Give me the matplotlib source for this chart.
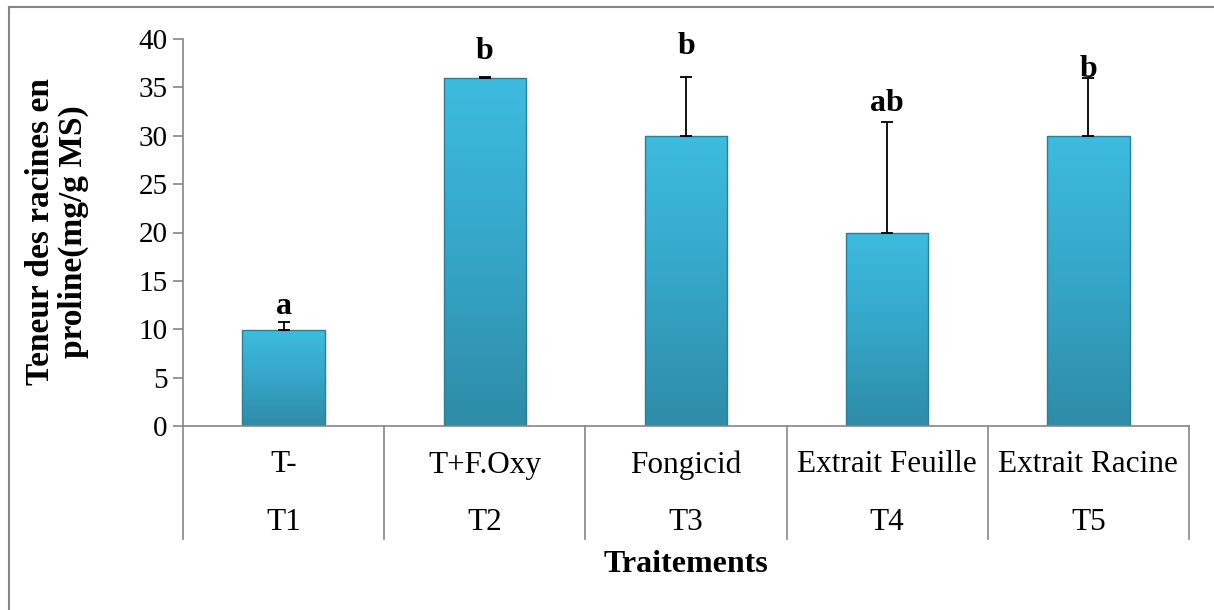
import numpy as np
import matplotlib
matplotlib.use("Agg")
import matplotlib.pyplot as plt
from matplotlib.colors import LinearSegmentedColormap
from matplotlib.lines import Line2D

# ---- data ----
treatments = ["T-", "T+F.Oxy", "Fongicid", "Extrait Feuille", "Extrait Racine"]
codes = ["T1", "T2", "T3", "T4", "T5"]
values = [9.9, 36.0, 30.0, 20.0, 30.0]
errors = [0.9, 0.05, 6.1, 11.4, 6.0]
letters = ["a", "b", "b", "ab", "b"]
letter_y = [12.3, 38.7, 39.2, 33.3, 36.8]
yticks = [0, 5, 10, 15, 20, 25, 30, 35, 40]

plt.rcParams['font.family'] = ['Liberation Serif', 'DejaVu Serif']

W, H = 1214, 610
fig = plt.figure(figsize=(W / 100, H / 100), dpi=100)
ax = fig.add_axes([183 / W, 1 - 426 / H, (1189 - 183) / W, (426 - 39) / H])

x = np.arange(len(values))
bars = ax.bar(x, values, width=0.41, color='none', edgecolor='#2A7E97',
              linewidth=1.0, zorder=2)
grad = np.linspace(0, 1, 256).reshape(-1, 1)
cmap = LinearSegmentedColormap.from_list('g', ['#2E8CA7', '#35A6C8', '#3DBCDF'])
for b in bars:
    x0, y0 = b.get_x(), b.get_y()
    w, h = b.get_width(), b.get_height()
    im = ax.imshow(grad, extent=[x0, x0 + w, y0, y0 + h], origin='lower',
                   cmap=cmap, aspect='auto', zorder=1)
    im.set_clip_path(b)

ax.errorbar(x, values, yerr=[np.zeros(len(values)), errors], fmt='none',
            ecolor='black', elinewidth=1.3, capsize=4, capthick=1.3, zorder=3)

for xi, lab, ly in zip(x, letters, letter_y):
    ax.text(xi, ly, lab, ha='center', va='center', fontsize=23,
            fontweight='bold', zorder=4)

ax.set_xlim(-0.5, len(values) - 0.5)
ax.set_ylim(0, 40)
ax.set_yticks(yticks)
ax.set_yticklabels([str(t) for t in yticks], fontsize=21)
ax.set_xticks([])
gray = '#868686'
for s in ['top', 'right']:
    ax.spines[s].set_visible(False)
for s in ['left', 'bottom']:
    ax.spines[s].set_color(gray)
    ax.spines[s].set_linewidth(1.2)
ax.tick_params(axis='y', direction='out', length=7, width=1.2, color=gray, pad=4)

# category separators and labels
trans = ax.get_xaxis_transform()
ybot = -(539 - 426) / (426 - 39)
for b in np.arange(-0.5, len(values), 1.0):
    ax.plot([b, b], [0, ybot], transform=trans, color=gray, lw=1.2,
            clip_on=False, zorder=0)
row1 = -(465 - 426) / (426 - 39)
row2 = -(522 - 426) / (426 - 39)
for xi, t, c in zip(x, treatments, codes):
    ax.text(xi, row1, t, transform=trans, ha='center', va='center', fontsize=22.5)
    ax.text(xi, row2, c, transform=trans, ha='center', va='center', fontsize=22.5)

fig.text(686 / W, 1 - 565 / H, "Traitements", ha='center', va='center',
         fontsize=23, fontweight='bold')
fig.text(57 / W, 1 - 232 / H, "Teneur des racines en\nproline(mg/g MS)",
         ha='center', va='center', rotation=90, fontsize=24,
         fontweight='bold', multialignment='center', linespacing=1.1)

# outer frame (top and left edges only visible)
fig.add_artist(Line2D([9 / W, 1], [1 - 7 / H, 1 - 7 / H], transform=fig.transFigure,
                      color=gray, lw=1.5))
fig.add_artist(Line2D([9 / W, 9 / W], [0, 1 - 7 / H], transform=fig.transFigure,
                      color=gray, lw=1.5))

fig.savefig("out.png", dpi=100)
